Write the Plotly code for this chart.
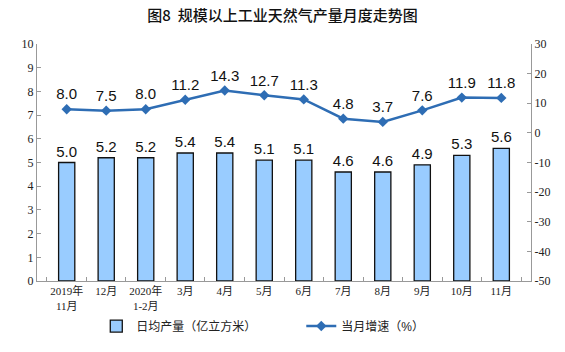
import plotly.graph_objects as go

categories = ["2019年<br>11月", "12月", "2020年<br>1-2月", "3月", "4月", "5月", "6月",
              "7月", "8月", "9月", "10月", "11月"]
daily_output = [5.0, 5.2, 5.2, 5.4, 5.4, 5.1, 5.1, 4.6, 4.6, 4.9, 5.3, 5.6]
growth = [8.0, 7.5, 8.0, 11.2, 14.3, 12.7, 11.3, 4.8, 3.7, 7.6, 11.9, 11.8]
left_ticks = list(range(0, 11))
right_ticks = list(range(-50, 31, 10))

serif = "Liberation Serif, Noto Sans CJK SC"
sans = "Liberation Sans, Noto Sans CJK SC"

fig = go.Figure()
fig.add_trace(go.Bar(
    x=categories, y=daily_output, name="日均产量（亿立方米）",
    marker=dict(color="#99CCFF", line=dict(color="#111111", width=1.3)),
    text=[f"{v:.1f}" for v in daily_output], textposition="outside",
    constraintext="none",
    textfont=dict(family=sans, size=15, color="#111111"), cliponaxis=False,
))
fig.add_trace(go.Scatter(
    x=categories, y=growth, name="当月增速（%）", yaxis="y2",
    mode="lines+markers+text",
    line=dict(color="#2E6DB4", width=2.5),
    marker=dict(symbol="diamond", size=8, color="#2E6DB4"),
    text=[f"{v:.1f}" for v in growth], textposition="top center",
    textfont=dict(family=sans, size=15, color="#111111"), cliponaxis=False,
))

fig.update_layout(
    width=565, height=352,
    margin=dict(l=37, r=34, t=44, b=71),
    paper_bgcolor="white", plot_bgcolor="white",
    bargap=0.59,
    title=dict(text="图8  规模以上工业天然气产量月度走势图", x=0.5, xanchor="center",
               y=0.955, yanchor="middle",
               font=dict(family="Noto Sans CJK SC", size=15, color="#111111", weight=500)),
    xaxis=dict(showline=True, linecolor="#999999", ticks="inside", ticklen=4,
               tickcolor="#999999", tickson="boundaries", tickangle=0,
               tickfont=dict(family=serif, size=11, color="#222222"),
               showgrid=False),
    yaxis=dict(range=[0, 10], tickvals=left_ticks, showline=True, linecolor="#999999",
               ticks="inside", ticklen=4, tickcolor="#999999", showgrid=False,
               zeroline=False, tickfont=dict(family=serif, size=12, color="#222222")),
    yaxis2=dict(range=[-50, 30], tickvals=right_ticks,
                ticktext=[str(v) for v in right_ticks], overlaying="y", side="right",
                showline=True, linecolor="#999999", ticks="inside", ticklen=4,
                tickcolor="#999999", showgrid=False, zeroline=False,
                tickfont=dict(family=serif, size=12, color="#222222")),
    legend=dict(orientation="h", x=0.12, xanchor="left", y=-0.19, yanchor="middle",
                entrywidth=160, entrywidthmode="pixels",
                font=dict(family=sans, size=12, color="#222222")),
    showlegend=True,
)

fig.write_html("out.html")
